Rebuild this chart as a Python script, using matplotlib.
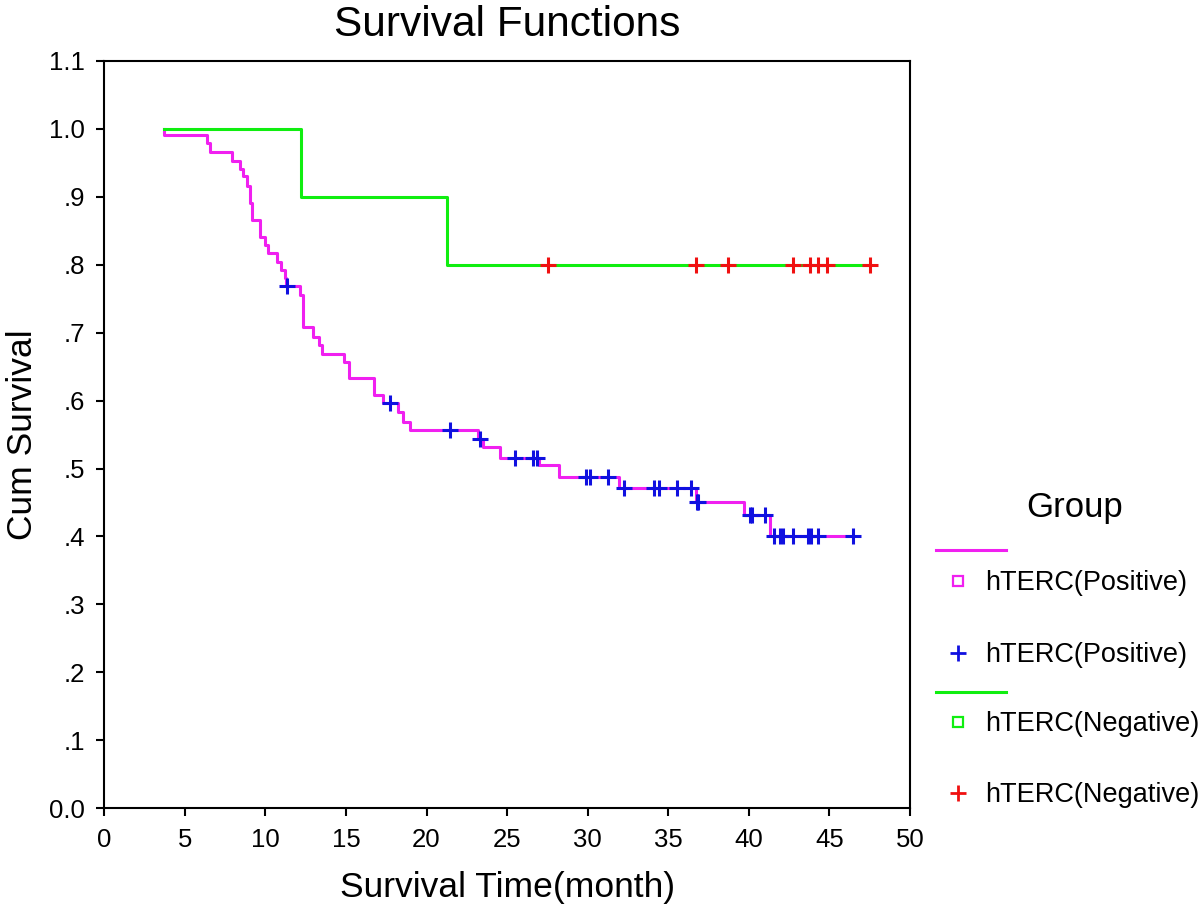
import numpy as np
import matplotlib
matplotlib.use("Agg")
import matplotlib.pyplot as plt
from matplotlib.lines import Line2D

plt.rcParams['font.family'] = ['Liberation Sans', 'DejaVu Sans']

# hTERC(Positive): event times (month) and survival right after each event
pos_start = 3.71
pos_times = [3.71, 6.39, 6.56, 7.91, 8.42, 8.63, 8.84, 9.04, 9.15, 9.66,
             9.98, 10.18, 10.70, 10.97, 11.22, 11.28, 12.15, 12.35, 12.97,
             13.33, 13.49, 14.88, 15.19, 16.74, 17.32, 18.25, 18.56, 18.98,
             23.22, 23.49, 24.56, 27.00, 28.24, 31.95, 36.73, 39.73, 41.32]
pos_surv = [0.990, 0.979, 0.965, 0.953, 0.940, 0.930, 0.916, 0.890, 0.866,
            0.841, 0.829, 0.817, 0.804, 0.792, 0.780, 0.768, 0.755, 0.708,
            0.694, 0.682, 0.669, 0.657, 0.633, 0.608, 0.596, 0.583, 0.569,
            0.556, 0.543, 0.532, 0.516, 0.505, 0.487, 0.471, 0.451, 0.432,
            0.400]
pos_censor = [11.32, 17.73, 21.46, 23.32, 25.49, 26.63, 26.84, 29.88, 30.15,
              31.28, 32.26, 34.12, 34.45, 35.53, 36.40, 36.76, 36.86, 40.05,
              40.22, 41.01, 41.57, 41.95, 42.15, 42.77, 43.70, 43.88, 44.32,
              46.49]

# hTERC(Negative)
neg_start = 3.71
neg_times = [12.21, 21.27]
neg_surv = [0.900, 0.800]
neg_censor = [27.56, 36.73, 38.73, 42.77, 43.80, 44.32, 44.84, 47.53]

x_ticks = [0, 5, 10, 15, 20, 25, 30, 35, 40, 45, 50]
y_ticks = [0.0, 0.1, 0.2, 0.3, 0.4, 0.5, 0.6, 0.7, 0.8, 0.9, 1.0, 1.1]
y_labels = ['0.0', '.1', '.2', '.3', '.4', '.5', '.6', '.7', '.8', '.9', '1.0', '1.1']

MAG = '#f020f0'
BLUE = '#1010e0'
GREEN = '#10ee10'
RED = '#f01010'


def km_curve(start, times, surv, end):
    x = [start] + list(times) + [end]
    y = [1.0] + list(surv) + [surv[-1]]
    return x, y


def surv_at(t, times, surv):
    i = np.searchsorted(times, t, side='right')
    return 1.0 if i == 0 else surv[i - 1]


fig = plt.figure(figsize=(12, 9.06), dpi=100)
ax = fig.add_axes([0.0869, 0.1078, 0.6714, 0.8252])

x, y = km_curve(pos_start, pos_times, pos_surv, pos_censor[-1])
ax.step(x, y, where='post', color=MAG, lw=2.2)
cy = [surv_at(t, pos_times, pos_surv) for t in pos_censor]
ax.plot(pos_censor, cy, ls='none', marker='+', ms=12, mew=2.2, color=BLUE)

x, y = km_curve(neg_start, neg_times, neg_surv, neg_censor[-1])
ax.step(x, y, where='post', color=GREEN, lw=2.2)
cy = [surv_at(t, neg_times, neg_surv) for t in neg_censor]
ax.plot(neg_censor, cy, ls='none', marker='+', ms=12, mew=2.2, color=RED)

ax.set_xlim(0, 50)
ax.set_ylim(0, 1.1)
ax.set_xticks(x_ticks)
ax.set_yticks(y_ticks)
ax.set_yticklabels(y_labels)
ax.tick_params(direction='out', length=6, width=1.5, labelsize=18.5, pad=8)
for s in ax.spines.values():
    s.set_linewidth(1.5)

ax.set_title('Survival Functions', fontsize=30.5, pad=18)
ax.set_xlabel('Survival Time(month)', fontsize=25.5, labelpad=14)
ax.set_ylabel('Cum Survival', fontsize=25.5, labelpad=7)

# legend drawn by hand to match the SPSS layout
fig.text(0.8958, 0.4393, 'Group', fontsize=25, ha='center', va='center')
entries = [
    ('line', MAG, 0.3929, None),
    ('s', MAG, 0.3587, 'hTERC(Positive)'),
    ('+', BLUE, 0.2793, 'hTERC(Positive)'),
    ('line', GREEN, 0.2362, None),
    ('s', GREEN, 0.2031, 'hTERC(Negative)'),
    ('+', RED, 0.1247, 'hTERC(Negative)'),
]
for kind, col, yy, label in entries:
    if kind == 'line':
        fig.add_artist(Line2D([0.78, 0.8383], [yy, yy], color=col, lw=2.2))
        continue
    if kind == 's':
        fig.add_artist(Line2D([0.7983], [yy], marker='s', ms=7, mfc='none',
                              mec=col, mew=1.6, ls='none'))
    else:
        fig.add_artist(Line2D([0.7983], [yy], marker='+', ms=11, mew=2,
                              color=col, ls='none'))
    fig.text(0.8208, yy - 0.002, label, fontsize=19.5, va='center')

fig.savefig('out.png', dpi=100)
